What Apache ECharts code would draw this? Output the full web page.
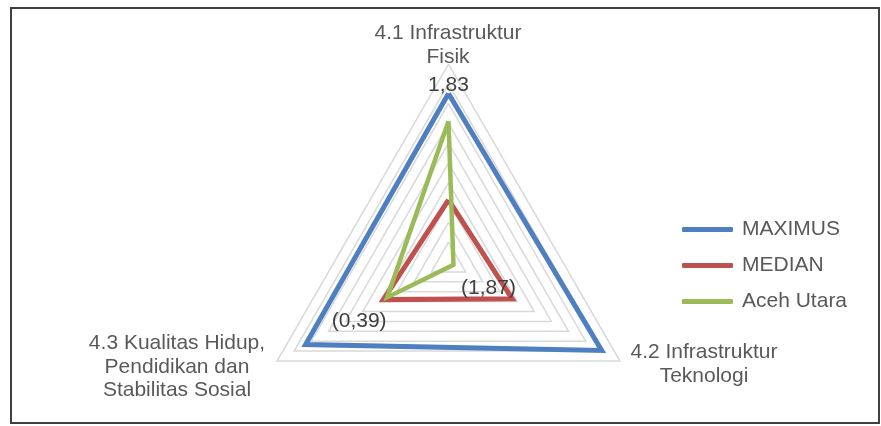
<!DOCTYPE html>
<html>
<head>
<meta charset="utf-8">
<script src="https://cdn.jsdelivr.net/npm/echarts@6/dist/echarts.min.js"></script>
<style>
  html, body { margin: 0; padding: 0; background: #fff; }
  #main { width: 881px; height: 426px; }
</style>
</head>
<body>
<div id="main"></div>
<script>
// axis order as echarts lays them out: top, then counter-clockwise (bottom-left, bottom-right)
const indicators = ['4.1 Infrastruktur\nFisik', '4.3 Kualitas Hidup,\nPendidikan dan\nStabilitas Sosial', '4.2 Infrastruktur\nTeknologi'];
const seriesNames = ['MAXIMUS', 'MEDIAN', 'Aceh Utara'];
const maximus = [1.83, 1.75, 2.02];
const median = [-0.59, -0.29, -0.33];
const acehUtara = [1.2, -0.39, -1.87];
const axisMin = -2;
const axisMax = 2.5;
// which vertices carry a value label
const maximusLabelDims = [0];
const acehLabelDims = [1, 2];

const colors = ['#4E7FC0', '#C0504D', '#9BBB59'];
const textColor = '#595959';
const font = '21px "Liberation Sans"';

function fmt(v) {
    const s = Math.abs(v).toFixed(2).replace('.', ',');
    return v < 0 ? '(' + s + ')' : s;
}

// label-only radar items, one per labelled vertex
function labelItem(values, dim, offset) {
    return {
        value: values,
        symbol: 'circle',
        symbolSize: 0,
        lineStyle: { width: 0, opacity: 0 },
        itemStyle: { color: 'transparent' },
        label: {
            show: true,
            position: 'inside',
            offset: offset,
            color: '#404040',
            fontSize: 21,
            fontFamily: 'Liberation Sans',
            formatter: function (p) {
                return p.value === values[dim] ? fmt(p.value) : '';
            }
        }
    };
}

const labelOffsets = { 0: [0, -8], 1: [-28, 24], 2: [35, 23] };

let myChart = echarts.init(document.getElementById('main'));
const option = {
    backgroundColor: '#fff',
    animation: false,
    legend: {
        data: seriesNames,
        orient: 'vertical',
        left: 677,
        top: 214,
        itemWidth: 51,
        itemHeight: 5,
        itemGap: 15,
        icon: 'roundRect',
        textStyle: {
            color: textColor,
            fontSize: 21,
            lineHeight: 21,
            fontFamily: 'Liberation Sans',
            padding: [0, 0, 0, 4]
        }
    },
    radar: {
        center: [448.5, 262],
        radius: 198,
        shape: 'polygon',
        splitNumber: 10,
        indicator: indicators.map(n => ({ name: n, min: axisMin, max: axisMax })),
        axisName: { show: false },
        axisLine: { show: false },
        axisTick: { show: false },
        axisLabel: { show: false },
        splitArea: { show: false },
        splitLine: { lineStyle: { color: '#D9D9D9', width: 1.5 } }
    },
    graphic: [
        {
            type: 'rect',
            shape: { x: 11, y: 8, width: 868, height: 415 },
            style: { fill: 'none', stroke: '#404040', lineWidth: 2 },
            silent: true
        },
        {
            type: 'text', x: 448, y: 45,
            style: { text: indicators[0], fill: textColor, font: font, textAlign: 'center', textVerticalAlign: 'middle', lineHeight: 24 }
        },
        {
            type: 'text', x: 177, y: 367,
            style: { text: indicators[1], fill: textColor, font: font, textAlign: 'center', textVerticalAlign: 'middle', lineHeight: 23.5 }
        },
        {
            type: 'text', x: 704, y: 364,
            style: { text: indicators[2], fill: textColor, font: font, textAlign: 'center', textVerticalAlign: 'middle', lineHeight: 24 }
        }
    ],
    series: [
        {
            type: 'radar',
            symbol: 'none',
            data: [
                { name: seriesNames[0], value: maximus, lineStyle: { color: colors[0], width: 5, join: 'miter' }, itemStyle: { color: colors[0] } },
                { name: seriesNames[1], value: median, lineStyle: { color: colors[1], width: 5, join: 'miter' }, itemStyle: { color: colors[1] } },
                { name: seriesNames[2], value: acehUtara, lineStyle: { color: colors[2], width: 4.5, join: 'miter' }, itemStyle: { color: colors[2] } }
            ]
        },
        {
            type: 'radar',
            silent: true,
            data: maximusLabelDims.map(d => labelItem(maximus, d, labelOffsets[d]))
                .concat(acehLabelDims.map(d => labelItem(acehUtara, d, labelOffsets[d])))
        }
    ]
};
myChart.setOption(option);
</script>
</body>
</html>
